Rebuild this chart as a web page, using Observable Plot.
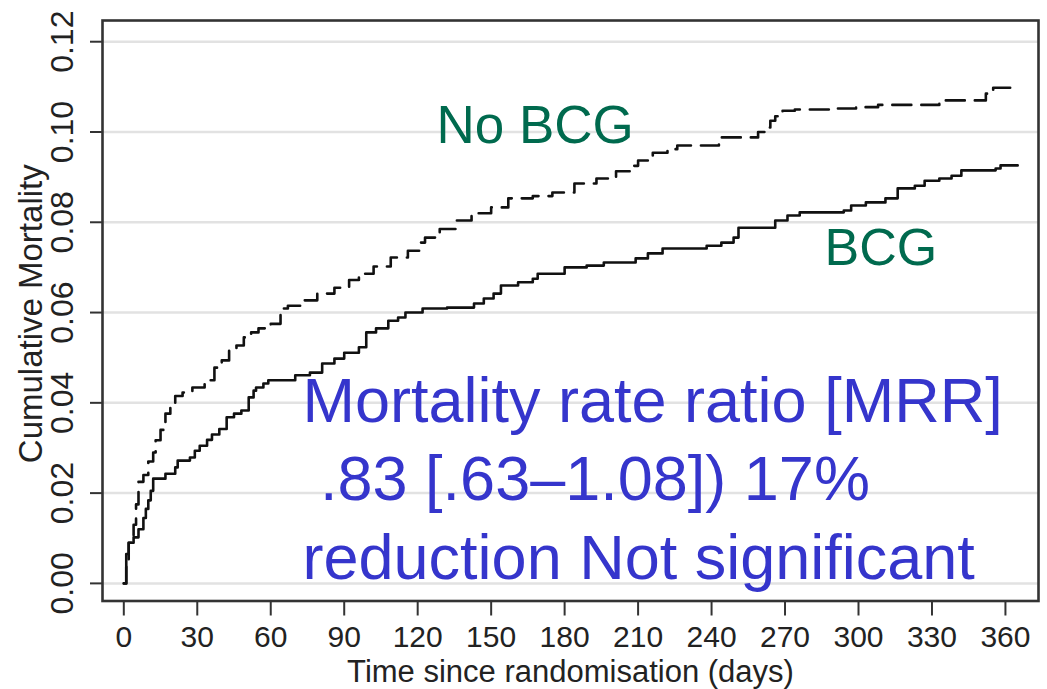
<!DOCTYPE html>
<html><head><meta charset="utf-8">
<script src="https://cdn.jsdelivr.net/npm/d3@7"></script>
<script src="https://cdn.jsdelivr.net/npm/@observablehq/plot@0.6"></script>
<style>html,body{margin:0;padding:0;background:#fff;} svg{display:block}</style>
</head><body><div id="chart"></div>
<script>
// ---- data ----
const noBcgDays = [0,1,2,4,5,6,8,10,12,13,15,17,19,21,24,28,33,37,40,43,46,49,52,55,60,64,67,72,79,86,92,96,102,109,116,121,123,129,136,142,150,157,167,175,184,193,201,207,210,216,222,226,243,259,262,264,266,269,274,288,299,308,333,352,355,363];
const noBcgRisk = [0,0.005,0.009,0.013,0.0175,0.0225,0.024,0.027,0.029,0.0317,0.034,0.0376,0.040,0.0415,0.0423,0.0434,0.045,0.0478,0.0494,0.0516,0.0527,0.0545,0.0556,0.0565,0.0575,0.0609,0.0615,0.0627,0.0642,0.0655,0.0672,0.0686,0.0702,0.0722,0.0737,0.0755,0.0766,0.0785,0.0804,0.082,0.0833,0.0853,0.0858,0.0866,0.0886,0.0897,0.0913,0.0925,0.0937,0.0954,0.0962,0.097,0.0988,0.1,0.101,0.1025,0.1035,0.1047,0.105,0.1052,0.1055,0.106,0.107,0.1085,0.1098,0.1098];
const bcgDays = [0,1,2,4,6,8,9,10,11,12,17,21,22,27,29,31,34,36,39,42,45,48,51,53,54,57,59,70,76,81,86,90,96,99,103,108,112,115,122,132,143,147,151,154,161,167,169,180,189,196,209,214,220,238,244,249,251,266,271,276,294,297,303,311,316,323,327,333,338,342,356,358,365];
const bcgRisk = [0,0.0065,0.009,0.0102,0.012,0.0145,0.0165,0.0184,0.0205,0.0232,0.0243,0.0257,0.0272,0.0279,0.0294,0.0305,0.0318,0.033,0.0342,0.0368,0.0376,0.0383,0.0412,0.0427,0.0434,0.0443,0.045,0.0461,0.0467,0.0487,0.0498,0.0511,0.0523,0.0556,0.0565,0.0582,0.0589,0.06,0.0609,0.0611,0.062,0.0631,0.0642,0.066,0.0667,0.0675,0.0686,0.07,0.0704,0.0711,0.072,0.0731,0.0742,0.0748,0.0755,0.0766,0.0788,0.0804,0.0815,0.0822,0.0826,0.0837,0.0844,0.0853,0.0875,0.0881,0.0892,0.0897,0.0903,0.0915,0.0919,0.0926,0.0926];
const xTicks = [0,30,60,90,120,150,180,210,240,270,300,330,360];
const yTicks = [0,0.02,0.04,0.06,0.08,0.10,0.12];
const xTitle = "Time since randomisation (days)";
const yTitle = "Cumulative Mortality";
const seriesLabels = ["No BCG", "BCG"];
const noteLines = ["Mortality rate ratio [MRR]", "\u00a0.83 [.63\u20131.08]) 17%", "reduction Not significant"];

// ---- build ----
const noBcg = noBcgDays.map((d, i) => ({day: d, risk: noBcgRisk[i]}));
const bcg = bcgDays.map((d, i) => ({day: d, risk: bcgRisk[i]}));
const font = "'Liberation Sans', Arial, Helvetica, sans-serif";
const green = "#006a4e";
const blue = "#3535cc";
const ink = "#222";

const chart = Plot.plot({
  width: 1047,
  height: 689,
  marginLeft: 102,
  marginRight: 9,
  marginTop: 20,
  marginBottom: 88.5,
  style: {fontFamily: font, fontSize: "32px", background: "#fff", color: ink},
  x: {domain: [-8.7, 373.5]},
  y: {domain: [-0.0039, 0.1247]},
  marks: [
    Plot.ruleY(yTicks, {stroke: "#e2e2e2", strokeWidth: 2.5}),
    Plot.line(noBcg, {x: "day", y: "risk", curve: "step-after", stroke: "#111", strokeWidth: 2.6, strokeDasharray: "19,10"}),
    Plot.line(bcg, {x: "day", y: "risk", curve: "step-after", stroke: "#111", strokeWidth: 2.6}),
    Plot.frame({stroke: "#333", strokeWidth: 2.6}),
    Plot.axisX({ticks: xTicks, tickSize: 15, tickPadding: 10, fontSize: 30, label: null, stroke: "#333", strokeWidth: 2, fill: ink}),
    Plot.axisY({ticks: yTicks, tickFormat: d3.format(".2f"), tickSize: 12, tickPadding: 18, tickRotate: -90, fontSize: 32, label: null, stroke: "#333", strokeWidth: 2, fill: ink}),
    Plot.text([yTitle], {text: d => d, frameAnchor: "left", rotate: -90, dx: -84, dy: 3, lineAnchor: "top", textAnchor: "middle", fontSize: 33, fill: ink}),
    Plot.text([xTitle], {text: d => d, frameAnchor: "bottom", dy: 59, lineAnchor: "top", textAnchor: "middle", fontSize: 31, fill: ink}),
    Plot.text([seriesLabels[0]], {text: d => d, frameAnchor: "top-left", dx: 334, dy: 122, lineAnchor: "bottom", textAnchor: "start", fontSize: 53, fill: green}),
    Plot.text([seriesLabels[1]], {text: d => d, frameAnchor: "top-left", dx: 722, dy: 244, lineAnchor: "bottom", textAnchor: "start", fontSize: 52, fill: green}),
    Plot.text([noteLines.join("\n")], {text: d => d, frameAnchor: "top-left", dx: 200, dy: 558, lineAnchor: "bottom", textAnchor: "start", fontSize: 63, lineHeight: 1.24, fill: blue})
  ]
});
document.getElementById("chart").appendChild(chart);
</script>
</body></html>
